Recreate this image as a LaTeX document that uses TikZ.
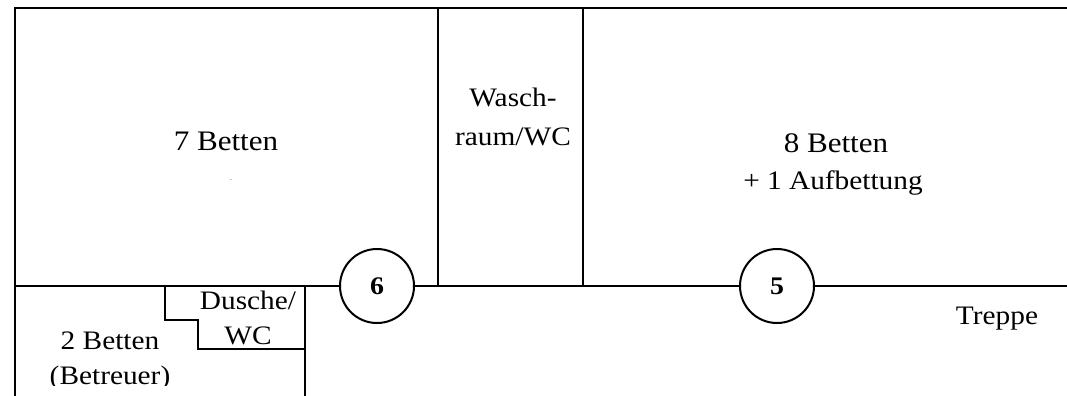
\documentclass[tikz,border=0pt]{standalone}
\usepackage{fontspec}
\setmainfont[FakeStretch=1.1]{Liberation Serif}
\usetikzlibrary{positioning}
\tikzset{
    wall/.style={line width=1.5pt},
    outer/.style={line width=2pt},
    door/.style={circle, draw, line width=1.5pt, inner sep=0pt, minimum size=55.5pt, font=\fontsize{19}{19}\selectfont\bfseries},
    bigroom/.style={align=center, font=\fontsize{21.2}{24}\selectfont},
    room/.style={align=center, font=\fontsize{20}{29}\selectfont},
    smallroom/.style={align=center, font=\fontsize{20}{26.5}\selectfont},
}
\begin{document}
\begin{tikzpicture}[x=0.75pt, y=-0.75pt]
    \useasboundingbox (0,0) rectangle (1067,396);
    % Draw outer walls
    \coordinate (tl) at (15,8);
    \coordinate (tr) at (1067,8);
    \coordinate (bl) at (15,396);
    \draw[outer] (bl) -- (tl) -- (tr);

    % Draw corridor wall with doors
    \node[door] (d6) at (377,286) {6};
    \node[door] (d5) at (777,286) {5};
    \coordinate (cl) at (15,286);
    \coordinate (cr) at (1067,286);
    \draw[wall] (cl) -- (d6);
    \draw[wall] (d6) -- (d5);
    \draw[wall] (d5) -- (cr);

    % Draw washroom
    \coordinate (wa) at (438,8);
    \coordinate (wb) at (438,286);
    \coordinate (wc) at (583,8);
    \coordinate (wd) at (583,286);
    \draw[wall] (wa) -- (wb);
    \draw[wall] (wc) -- (wd);

    % Draw shower
    \coordinate (sa) at (165,286);
    \coordinate (sb) at (198,349);
    \coordinate (sc) at (305,349);
    \coordinate (sd) at (305,286);
    \coordinate (se) at (305,396);
    \draw[wall] (sa) -- ++(0,34) -| (sb) -- (sc);
    \draw[wall] (sd) -- (se);

    % Room labels
    \node[bigroom] (r7) at (226,141) {7 Betten};
    \node[bigroom] (r8) at (836,143) {8 Betten};
    \node[room] (r8x) at (833,183) {+ 1 Aufbettung};
    \node[room] (rw) at (513,117) {Wasch-\\raum/WC};
    \node[smallroom] (rd) at (248,318) {Dusche/\\WC};
    \begin{scope}
        % text is cut off at the bottom
        \clip (20,300) rectangle (300,385);
        \node[smallroom] (rb) at (110,361) {2 Betten\\(Betreuer)};
    \end{scope}
    \node[room] (rt) at (997,319) {Treppe};
    \node[inner sep=0pt, font=\tiny] (dot) at (231,180) {.};
\end{tikzpicture}
\end{document}
